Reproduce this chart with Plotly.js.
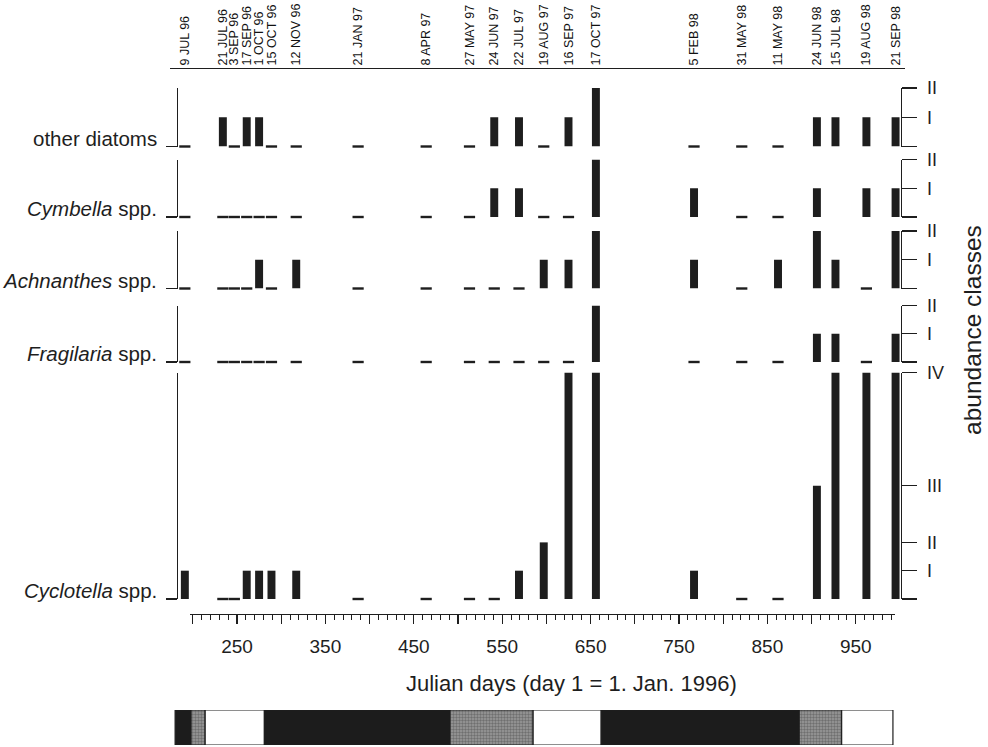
<!DOCTYPE html>
<html>
<head>
<meta charset="utf-8">
<script src="https://cdn.plot.ly/plotly-3.0.1.min.js"></script>
<style>html,body{margin:0;padding:0;background:#fff;}#chart{width:988px;height:747px;}</style>
</head>
<body>
<div id="chart"></div>
<script>
// ---------------- DATA ----------------
const dateLabels = ['9 JUL 96','21 JUL 96','3 SEP 96','17 SEP 96','1 OCT 96','15 OCT 96','12 NOV 96',
  '21 JAN 97','8 APR 97','27 MAY 97','24 JUN 97','22 JUL 97','19 AUG 97','16 SEP 97','17 OCT 97',
  '5 FEB 98','31 MAY 98','11 MAY 98','24 JUN 98','15 JUL 98','19 AUG 98','21 SEP 98'];
// Julian day (day 1 = 1 Jan 1996) of each sample
const sampleDays = [191, 234, 247, 261, 275, 289, 317, 387, 464, 513, 541, 569, 597, 625, 656,
  767, 821, 862, 906, 927, 962, 995];
// abundance class value: 0 = absent (dash), 1 = I, 2 = II, 4 = III, 8 = IV, null = no mark
const otherDiatoms = [0,1,0,1,1,0,0,0,0,0,1,1,0,1,2,0,0,0,1,1,1,1];
const cymbella     = [0,0,0,0,0,0,0,0,0,0,1,1,0,0,2,1,0,0,1,null,1,1];
const achnanthes   = [0,0,0,0,1,0,1,0,0,0,0,0,1,1,2,1,0,1,2,1,0,2];
const fragilaria   = [0,0,0,0,0,0,0,0,0,0,0,0,0,0,2,0,0,0,1,1,0,1];
const cyclotella   = [1,0,0,1,1,1,1,0,0,0,0,1,2,8,8,1,0,0,4,8,8,8];
const taxaNames = ['other diatoms','<i>Cymbella</i> spp.','<i>Achnanthes</i> spp.','<i>Fragilaria</i> spp.','<i>Cyclotella</i> spp.'];
const classValues = [0, 1, 2, 4, 8];
const classNames  = ['', 'I', 'II', 'III', 'IV'];
// season bar (Julian days)
const seasonStart = [180, 198, 214, 281, 491, 585, 662, 886, 934];
const seasonEnd   = [198, 214, 281, 491, 585, 662, 886, 934, 992];
const seasonType  = ['black','stipple','white','black','stipple','white','black','stipple','white'];
const xTitle = 'Julian days (day 1 = 1. Jan. 1996)';
const yTitle = 'abundance classes';

// ---------------- LAYOUT HELPERS ----------------
const W = 988, H = 747;
const fx = px => px / W;
const fy = px => 1 - px / H;
const PX0 = 16, PXS = 0.884;            // pixel = PX0 + PXS * day
const dayAt = px => (px - PX0) / PXS;
const INK = '#1e1e1e';
const FONT = 'Liberation Sans, Arial, sans-serif';

const series = [otherDiatoms, cymbella, achnanthes, fragilaria, cyclotella];
const rowPx = [[88,146.5],[159.5,217],[231,288.5],[305.5,362],[372.5,599]];
const rowMax = [2,2,2,2,8];

const xRange = [dayAt(170), dayAt(905)];
const xDomain = [fx(170), fx(905)];

const traces = [];
const layout = {
  width: W, height: H,
  margin: {l:0, r:0, t:0, b:0},
  paper_bgcolor: '#fff', plot_bgcolor: 'rgba(0,0,0,0)',
  showlegend: false,
  barmode: 'overlay',
  font: {family: FONT, color: INK},
  xaxis: {domain: xDomain, range: xRange, visible: false, fixedrange: true, anchor: 'y'},
  annotations: []
};

series.forEach((vals, i) => {
  const yl = i === 0 ? 'y' : 'y' + (i + 1);
  const ylKey = i === 0 ? 'yaxis' : 'yaxis' + (i + 1);
  const yrId = 'y' + (i + 6);
  const yrKey = 'yaxis' + (i + 6);
  const dom = [fy(rowPx[i][1]), fy(rowPx[i][0])];
  const rng = [0, rowMax[i]];
  const tv = classValues.filter(v => v <= rowMax[i]);
  const tt = tv.map(v => classNames[classValues.indexOf(v)]);

  traces.push({
    type: 'bar', x: sampleDays, y: vals.map(v => (v !== null && v > 0) ? v : null),
    xaxis: 'x', yaxis: yl, width: 9,
    marker: {color: INK, line: {width: 0}}, hoverinfo: 'x+y'
  });
  const zx = [], zy = [];
  vals.forEach((v, k) => { if (v === 0) { zx.push(sampleDays[k]); zy.push(0); } });
  traces.push({
    type: 'scatter', mode: 'markers', x: zx, y: zy, xaxis: 'x', yaxis: yl, cliponaxis: false,
    marker: {symbol: 'line-ew', size: 8, color: INK, line: {width: 2.4, color: INK}}, hoverinfo: 'x'
  });
  // invisible trace so the right-hand bracket axis is drawn
  traces.push({type: 'scatter', mode: 'markers', x: [sampleDays[0]], y: [0], xaxis: 'x', yaxis: yrId,
    marker: {opacity: 0}, hoverinfo: 'skip'});

  layout[ylKey] = {
    domain: dom, range: rng, anchor: 'free', position: fx(177), fixedrange: true,
    showline: true, linecolor: INK, linewidth: 1.4, mirror: false,
    ticks: 'outside', tickmode: 'array', tickvals: [0], ticklen: 11, tickwidth: 1.4, tickcolor: INK,
    showticklabels: false, showgrid: false, zeroline: false
  };
  layout[yrKey] = {
    domain: dom, range: rng, overlaying: yl, side: 'right', anchor: 'free', position: fx(901), fixedrange: true,
    showline: true, linecolor: INK, linewidth: 1.4,
    ticks: 'outside', tickmode: 'array', tickvals: tv, ticktext: tt, ticklen: 15, tickwidth: 1.4, tickcolor: INK,
    tickfont: {size: 18, color: INK, family: FONT}, ticklabelstandoff: 6,
    showgrid: false, zeroline: false
  };
  layout.annotations.push({
    xref: 'paper', x: fx(159), xanchor: 'right', yref: yl, y: 0, yanchor: 'bottom', yshift: -5,
    text: taxaNames[i], showarrow: false, font: {size: 20.5, color: INK, family: FONT}
  });
});

// top axis with sampling dates
layout.xaxis2 = {
  overlaying: 'x', domain: xDomain, range: xRange, side: 'top', anchor: 'free', position: fy(68),
  fixedrange: true, showline: true, linecolor: INK, linewidth: 1.4, ticks: '',
  tickmode: 'array', tickvals: sampleDays, ticktext: dateLabels, tickangle: -90,
  tickfont: {size: 12.5, color: '#111', family: FONT}, showgrid: false, zeroline: false
};
traces.push({type: 'scatter', mode: 'markers', x: [sampleDays[0]], y: [0], xaxis: 'x2', yaxis: 'y',
  marker: {opacity: 0}, hoverinfo: 'skip'});

// bottom ruler axis (same day scale, own shorter domain)
layout.xaxis3 = {
  domain: [fx(190), fx(895)], range: [dayAt(190), dayAt(895)], side: 'bottom',
  anchor: 'free', position: fy(614), fixedrange: true,
  showline: true, linecolor: INK, linewidth: 1.4,
  ticks: 'outside', tickmode: 'linear', tick0: 250, dtick: 50, ticklabelstep: 2,
  ticklen: 9, tickwidth: 1.3, tickcolor: INK,
  minor: {ticks: 'outside', dtick: 10, tick0: 0, ticklen: 5, tickwidth: 1, tickcolor: INK, showgrid: false},
  tickfont: {size: 19, color: INK, family: FONT}, ticklabelstandoff: 6,
  showgrid: false, zeroline: false
};
traces.push({type: 'scatter', mode: 'markers', x: [sampleDays[1]], y: [0], xaxis: 'x3', yaxis: 'y',
  marker: {opacity: 0}, hoverinfo: 'skip'});

// season bar
layout.xaxis4 = {domain: xDomain, range: xRange, visible: false, fixedrange: true, anchor: 'y11'};
layout.yaxis11 = {domain: [fy(745), fy(710)], range: [-0.5, 0.5], visible: false, fixedrange: true, anchor: 'x4'};
const fillOf = {black: '#1c1c1c', stipple: '#9a9a9a', white: '#ffffff'};
traces.push({
  type: 'bar', orientation: 'h', xaxis: 'x4', yaxis: 'y11',
  y: seasonStart.map(() => 0), base: seasonStart, x: seasonStart.map((s, k) => seasonEnd[k] - s),
  width: 1,
  marker: {
    color: seasonType.map(t => fillOf[t]),
    line: {color: INK, width: 1.2},
    pattern: {shape: seasonType.map(t => t === 'stipple' ? '.' : ''), fgcolor: '#333', size: 3, solidity: 0.5, fillmode: 'overlay'}
  },
  hoverinfo: 'skip'
});

layout.annotations.push({
  xref: 'paper', yref: 'paper', x: fx(571), y: fy(683), xanchor: 'center', yanchor: 'middle',
  text: xTitle, showarrow: false, font: {size: 22, color: INK, family: FONT}
});
layout.annotations.push({
  xref: 'paper', yref: 'paper', x: fx(973), y: fy(330), xanchor: 'center', yanchor: 'middle',
  text: yTitle, textangle: -90, showarrow: false, font: {size: 24.5, color: INK, family: FONT}
});

Plotly.newPlot('chart', traces, layout, {displayModeBar: false, staticPlot: true});
</script>
</body>
</html>
